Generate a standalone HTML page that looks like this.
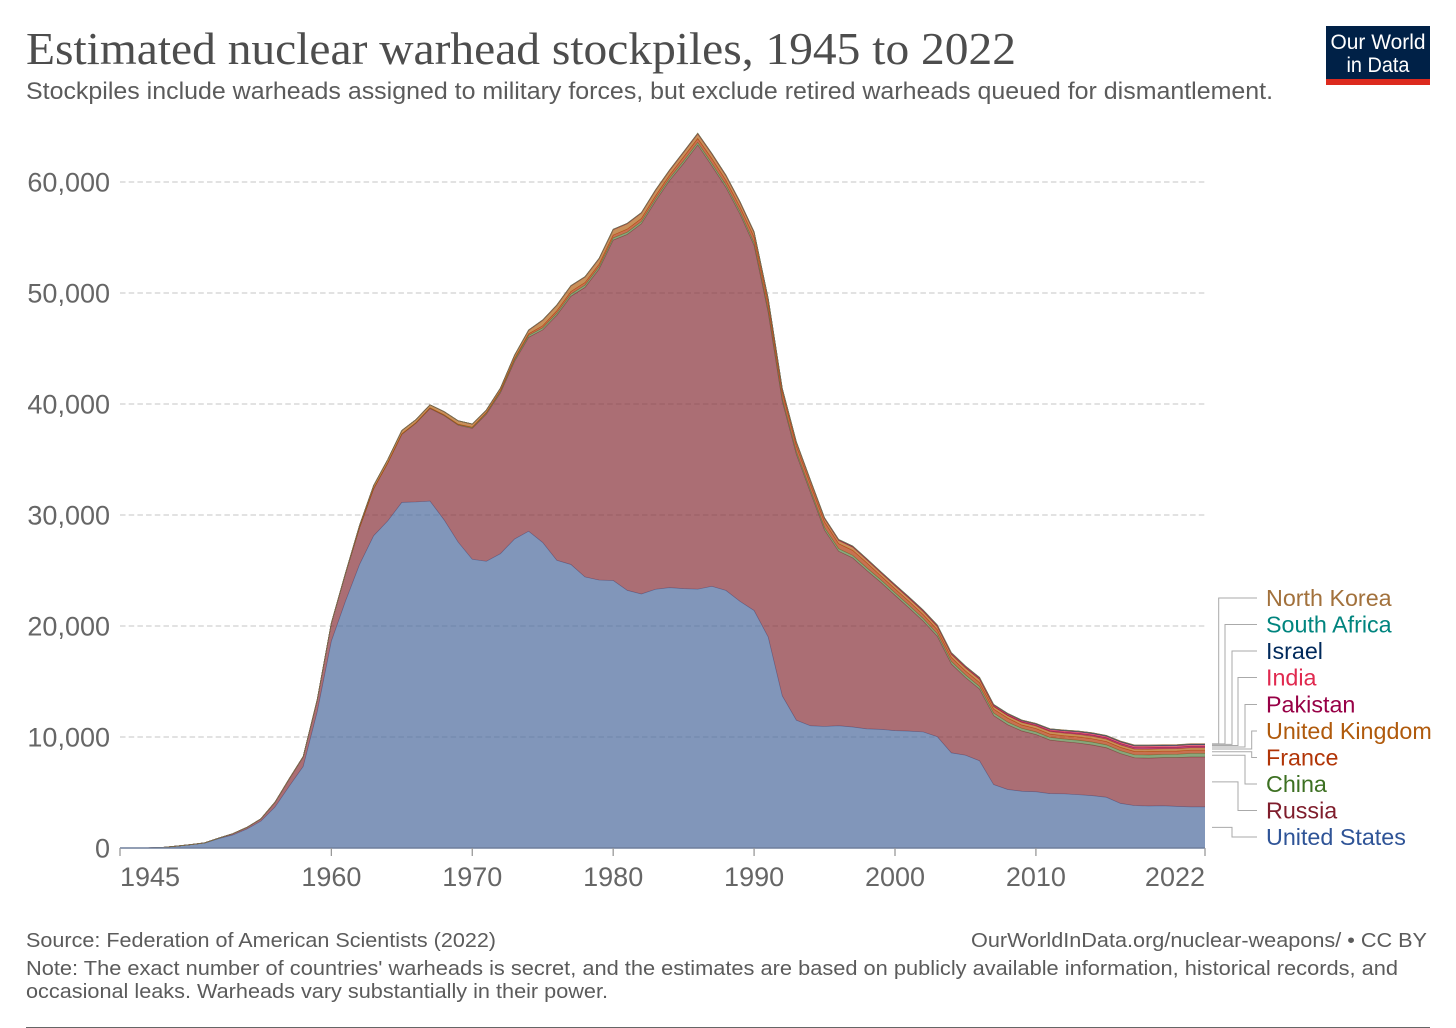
<!DOCTYPE html>
<html lang="en">
<head>
<meta charset="utf-8">
<title>Estimated nuclear warhead stockpiles, 1945 to 2022</title>
<style>
html,body{margin:0;padding:0;background:#fff;width:1456px;height:1028px;overflow:hidden}
svg{display:block}
text{font-family:"Liberation Sans",Arial,sans-serif}
.title{font-family:"Liberation Serif",Georgia,serif;font-size:46px;fill:#4d4d4d}
.sub{font-size:24px;fill:#5b5b5b}
.foot{font-size:20.5px;fill:#5b5b5b}
.tick{font-size:27px;fill:#666}
.label{font-size:23.3px}
</style>
</head>
<body>
<svg id="chart" xmlns="http://www.w3.org/2000/svg" width="1456" height="1028" viewBox="0 0 1456 1028">
  <text class="title" x="26" y="64" textLength="990" lengthAdjust="spacingAndGlyphs">Estimated nuclear warhead stockpiles, 1945 to 2022</text>
  <text class="sub" x="26" y="99" textLength="1247" lengthAdjust="spacingAndGlyphs">Stockpiles include warheads assigned to military forces, but exclude retired warheads queued for dismantlement.</text>
  <g>
    <rect x="1326" y="26" width="104" height="59" fill="#002147"/>
    <rect x="1326" y="79" width="104" height="6" fill="#dc2a1e"/>
    <text x="1378" y="49" text-anchor="middle" fill="#fff" font-size="21" textLength="95" lengthAdjust="spacingAndGlyphs">Our World</text>
    <text x="1378" y="72" text-anchor="middle" fill="#fff" font-size="21" textLength="63" lengthAdjust="spacingAndGlyphs">in Data</text>
  </g>
  <g id="grid"></g>
  <g id="areas"></g>
  <g id="axes"></g>
  <g id="legend"></g>
  <text class="foot" x="26" y="947" textLength="470" lengthAdjust="spacingAndGlyphs">Source: Federation of American Scientists (2022)</text>
  <text class="foot" x="971" y="947" textLength="456" lengthAdjust="spacingAndGlyphs">OurWorldInData.org/nuclear-weapons/ • CC BY</text>
  <text class="foot" x="26" y="975" textLength="1372" lengthAdjust="spacingAndGlyphs">Note: The exact number of countries' warheads is secret, and the estimates are based on publicly available information, historical records, and</text>
  <text class="foot" x="26" y="998" textLength="582" lengthAdjust="spacingAndGlyphs">occasional leaks. Warheads vary substantially in their power.</text>
  <rect x="26" y="1027" width="1404" height="1" fill="#666"/>
</svg>
<script>
const years = [1945,1946,1947,1948,1949,1950,1951,1952,1953,1954,1955,1956,1957,1958,1959,1960,1961,1962,1963,1964,1965,1966,1967,1968,1969,1970,1971,1972,1973,1974,1975,1976,1977,1978,1979,1980,1981,1982,1983,1984,1985,1986,1987,1988,1989,1990,1991,1992,1993,1994,1995,1996,1997,1998,1999,2000,2001,2002,2003,2004,2005,2006,2007,2008,2009,2010,2011,2012,2013,2014,2015,2016,2017,2018,2019,2020,2021,2022];
const unitedStates = [2,9,13,50,170,299,438,841,1169,1703,2422,3692,5543,7345,12298,18638,22229,25540,28133,29463,31139,31175,31255,29561,27552,26008,25830,26516,27835,28537,27519,25914,25542,24418,24138,24104,23208,22886,23305,23459,23368,23317,23575,23205,22217,21392,19008,13708,11511,11012,10953,11011,10903,10732,10685,10577,10526,10457,10027,8570,8360,7853,5709,5273,5113,5066,4897,4881,4804,4717,4571,4018,3822,3785,3805,3750,3708,3708];
const russia = [0,0,0,0,1,5,25,50,120,150,200,426,660,869,1060,1605,2471,3322,4238,5221,6129,7089,8339,9399,10538,11793,13255,14491,16009,17473,19158,22081,24160,26084,28020,30658,32067,33346,34959,36670,38311,40022,37885,36309,34891,32904,29250,26561,23959,21019,17684,15722,15228,14271,13239,12188,11094,9981,9049,8005,7004,6464,6214,5828,5426,5156,4823,4697,4652,4562,4461,4487,4303,4315,4335,4390,4492,4492];
const china = [0,0,0,0,0,0,0,0,0,0,0,0,0,0,0,0,0,0,0,1,5,20,25,35,50,75,100,130,150,170,185,190,205,205,205,205,205,205,205,205,222,224,226,228,230,232,234,234,234,234,234,234,232,232,232,232,235,235,235,235,235,235,240,240,240,240,240,240,250,260,260,260,270,280,290,300,320,320];
const france = [0,0,0,0,0,0,0,0,0,0,0,0,0,0,0,0,0,0,0,4,32,36,36,36,36,36,45,70,116,145,188,212,228,235,235,250,274,274,279,280,360,355,420,410,410,505,540,540,525,510,500,450,450,450,350,350,350,350,350,350,350,350,350,350,300,300,300,300,300,300,300,300,300,300,290,290,290,290];
const unitedKingdom = [0,0,0,0,0,0,0,0,1,5,10,15,20,22,25,30,50,205,280,310,310,270,270,280,308,280,220,220,275,325,500,500,500,500,492,492,492,492,492,422,422,422,422,422,422,422,422,300,300,300,300,300,300,281,281,281,281,281,281,281,281,281,225,225,225,225,225,225,225,225,215,215,215,215,215,215,215,215];
const pakistan = [0,0,0,0,0,0,0,0,0,0,0,0,0,0,0,0,0,0,0,0,0,0,0,0,0,0,0,0,0,0,0,0,0,0,0,0,0,0,0,0,0,0,0,0,0,0,0,0,0,0,0,0,0,3,8,14,20,25,30,35,40,50,60,65,70,75,85,95,105,115,125,135,140,150,140,140,140,140];
const india = [0,0,0,0,0,0,0,0,0,0,0,0,0,0,0,0,0,0,0,0,0,0,0,0,0,0,0,0,0,0,0,0,0,0,0,0,0,0,0,0,0,0,0,2,4,6,8,10,12,14,16,18,20,22,24,26,30,35,40,45,50,55,60,65,70,80,90,100,110,115,120,125,130,135,130,130,130,130];
const israel = [0,0,0,0,0,0,0,0,0,0,0,0,0,0,0,0,0,0,0,0,0,0,2,4,6,8,10,13,15,20,20,23,25,28,30,31,33,35,37,40,42,44,46,48,50,53,55,57,59,61,63,65,67,69,71,72,74,76,78,79,80,80,80,80,80,80,80,80,80,80,80,80,80,80,80,80,80,80];
const southAfrica = [0,0,0,0,0,0,0,0,0,0,0,0,0,0,0,0,0,0,0,0,0,0,0,0,0,0,0,0,0,0,0,0,0,0,0,0,1,2,3,4,5,6,6,6,6,6,3,0,0,0,0,0,0,0,0,0,0,0,0,0,0,0,0,0,0,0,0,0,0,0,0,0,0,0,0,0,0,0];
const northKorea = [0,0,0,0,0,0,0,0,0,0,0,0,0,0,0,0,0,0,0,0,0,0,0,0,0,0,0,0,0,0,0,0,0,0,0,0,0,0,0,0,0,0,0,0,0,0,0,0,0,0,0,0,0,0,0,0,0,0,0,0,0,2,2,4,6,8,10,12,14,16,18,20,20,20,15,15,15,15];
const seriesNames = ['United States','Russia','China','France','United Kingdom','Pakistan','India','Israel','South Africa','North Korea'];
const seriesValues = [unitedStates,russia,china,france,unitedKingdom,pakistan,india,israel,southAfrica,northKorea];
const seriesColors = ['#4c6a9c','#883039','#578145','#b13507','#b16214','#970046','#d73c50','#00295b','#00847e','#a2713c'];
const labelColors = ['#2f5497','#7f1d2c','#3d7022','#b13507','#b05a0c','#970046','#e0294f','#00295b','#00847e','#a2713c'];
const yTicks = [0,10000,20000,30000,40000,50000,60000];
const xTicks = [1945,1960,1970,1980,1990,2000,2010,2022];

const NS = 'http://www.w3.org/2000/svg';
const plot = {left:120, right:1205, top:182, bottom:848};
const firstYear = years[0];
const lastYear = years[years.length - 1];
function xScale(year){ return plot.left + (year - firstYear) / (lastYear - firstYear) * (plot.right - plot.left); }
function yScale(value){ return plot.bottom - value / 60000 * (plot.bottom - plot.top); }
function make(tag, attrs, parent){
  const el = document.createElementNS(NS, tag);
  for (const k in attrs) el.setAttribute(k, attrs[k]);
  parent.appendChild(el);
  return el;
}
function slug(name){ return name.toLowerCase().replace(/\s+/g, '-'); }

const gridG = document.getElementById('grid');
yTicks.forEach(function(t){
  if (t === 0) return;
  const el = make('line', {x1:plot.left, x2:plot.right, y1:yScale(t), y2:yScale(t), stroke:'#d0d0d0', 'stroke-width':1.3, 'stroke-dasharray':'5.5,3.2'}, gridG);
  
  
});

const areasG = document.getElementById('areas');
const baseStack = years.map(function(){ return 0; });
const stackMids = [];
seriesValues.forEach(function(vals, i){
  const lower = baseStack.slice();
  const upper = lower.map(function(b, j){ return b + vals[j]; });
  let d = '';
  upper.forEach(function(v, j){ d += (j ? 'L' : 'M') + xScale(years[j]).toFixed(2) + ' ' + yScale(v).toFixed(2); });
  for (let j = years.length - 1; j >= 0; j--) d += 'L' + xScale(years[j]).toFixed(2) + ' ' + yScale(lower[j]).toFixed(2);
  d += 'Z';
  const area = make('path', {d:d, fill:seriesColors[i], 'fill-opacity':0.7, stroke:'none'}, areasG);
  
  
  let top = '';
  upper.forEach(function(v, j){ top += (j ? 'L' : 'M') + xScale(years[j]).toFixed(2) + ' ' + yScale(v).toFixed(2); });
  const line = make('path', {d:top, fill:'none', stroke:seriesColors[i], 'stroke-width':0.7, 'stroke-opacity':0.85}, areasG);
  
  
  const last = years.length - 1;
  stackMids.push((lower[last] + upper[last]) / 2);
  upper.forEach(function(v, j){ baseStack[j] = v; });
});

const axesG = document.getElementById('axes');
const baseline = make('line', {x1:plot.left, x2:plot.right, y1:plot.bottom, y2:plot.bottom, stroke:'#6f7f9c', 'stroke-width':1.4}, axesG);


yTicks.forEach(function(t){
  const el = make('text', {class:'tick', x:110, y:yScale(t) + 9.5, 'text-anchor':'end'}, axesG);
  el.textContent = t.toLocaleString('en-US');
  
  
});
xTicks.forEach(function(t, i){
  const x = xScale(t);
  const mark = make('line', {x1:x, x2:x, y1:plot.bottom, y2:plot.bottom + 8, stroke:'#999', 'stroke-width':1.3}, axesG);
  
  
  const anchor = i === 0 ? 'start' : (i === xTicks.length - 1 ? 'end' : 'middle');
  const el = make('text', {class:'tick', x:x, y:886, 'text-anchor':anchor}, axesG);
  el.textContent = t;
  
  
});

const legendG = document.getElementById('legend');
const labelYs = [837,810.5,784,757.5,731,704.5,677.5,651,624.5,598];
const elbowXs = [1232,1238,1245,1251.7,1251.7,1245,1238,1232,1225,1218.7];
seriesNames.forEach(function(name, i){
  const sy = yScale(stackMids[i]);
  const ly = labelYs[i];
  const ex = elbowXs[i];
  const conn = make('path', {d:'M1212 ' + sy.toFixed(1) + 'H' + ex + 'V' + ly + 'H1257', fill:'none', stroke:'#aaa', 'stroke-width':1}, legendG);
  
  
  const t = make('text', {class:'label', x:1266, y:ly + 8, fill:labelColors[i]}, legendG);
  t.textContent = name;
  
  
});
</script>
</body>
</html>
